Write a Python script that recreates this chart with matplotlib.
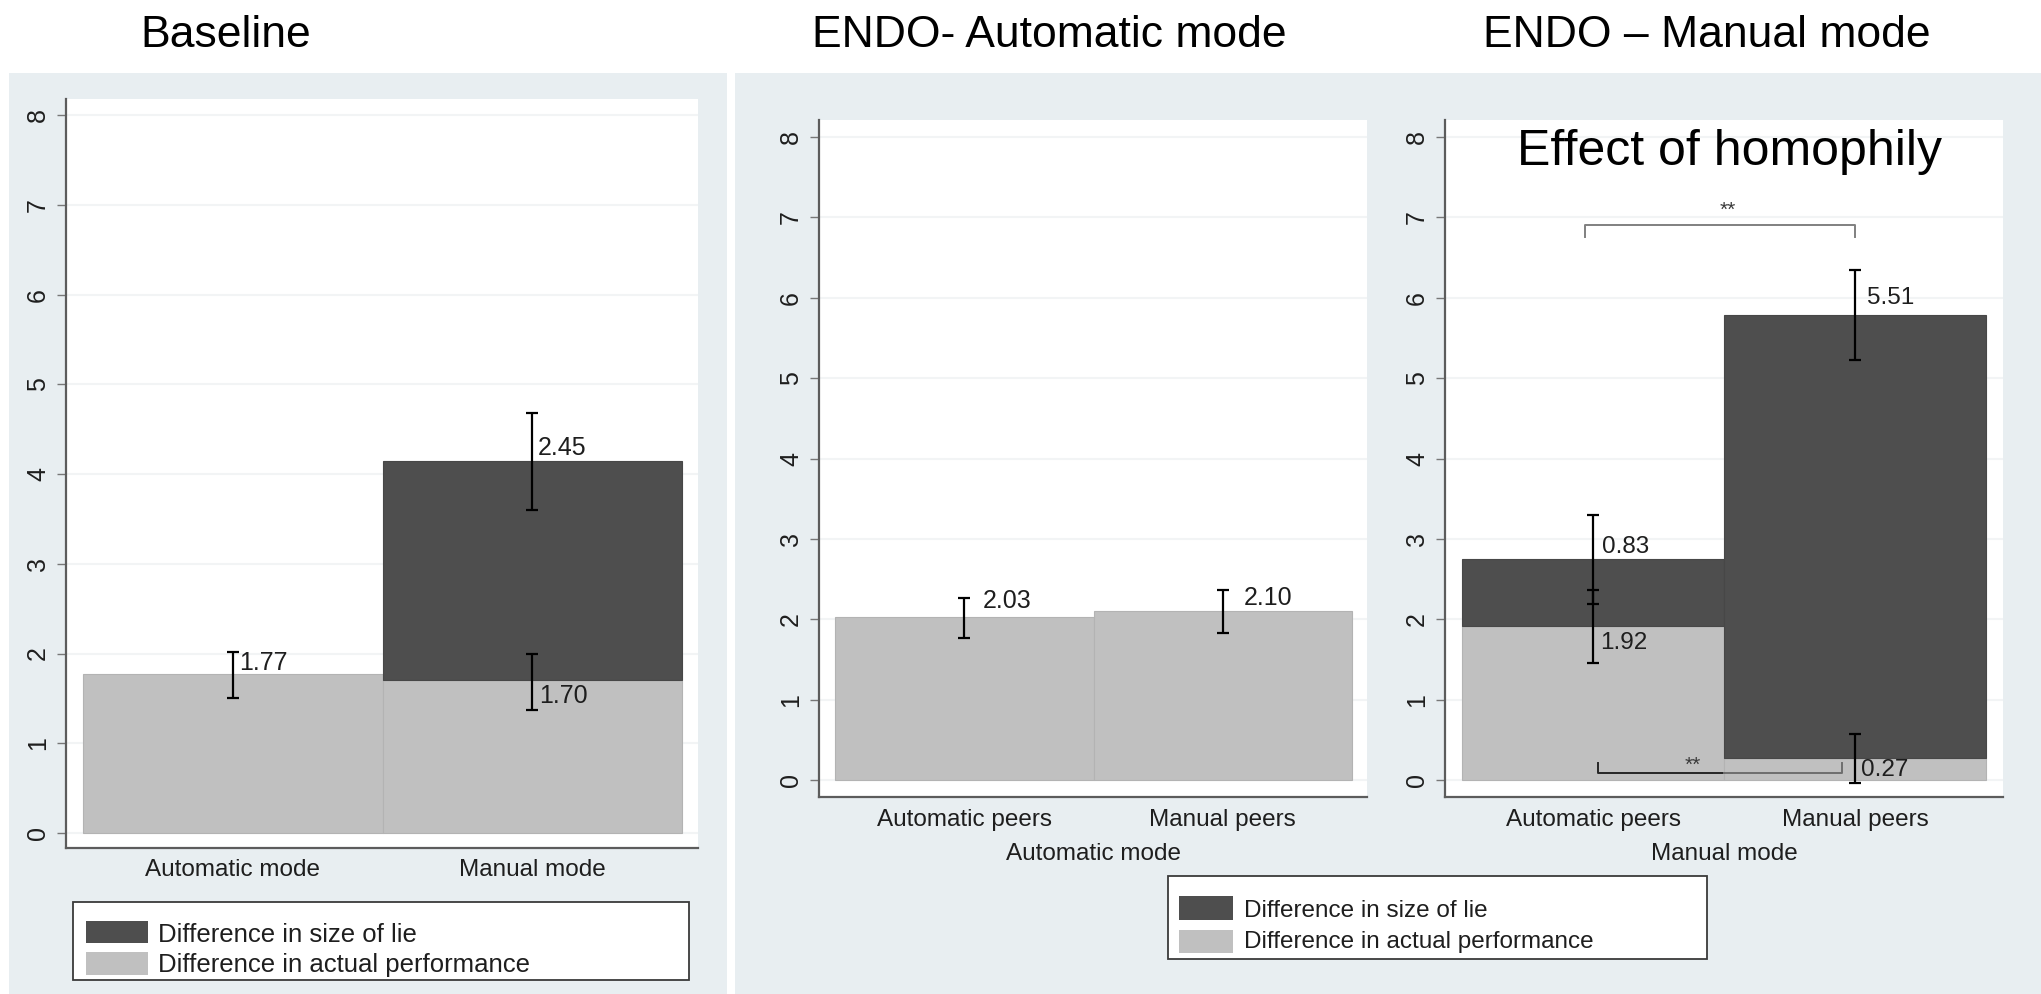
import matplotlib
matplotlib.use("Agg")
import matplotlib.pyplot as plt
from matplotlib.patches import Rectangle
import numpy as np

plt.rcParams['font.family'] = ['Liberation Sans', 'DejaVu Sans']

# ---------------------------------------------------------------- data
series_names = ['Difference in size of lie', 'Difference in actual performance']

panel_titles = ['Baseline', 'ENDO- Automatic mode', 'ENDO \u2013 Manual mode']

baseline_cats = ['Automatic mode', 'Manual mode']
baseline_perf = [1.77, 1.70]
baseline_lie = [0.00, 2.45]
baseline_perf_lo = [1.50, 1.37]
baseline_perf_hi = [2.02, 2.00]
baseline_total_lo = [np.nan, 3.60]
baseline_total_hi = [np.nan, 4.68]

auto_cats = ['Automatic peers', 'Manual peers']
auto_xlabel = 'Automatic mode'
auto_perf = [2.03, 2.10]
auto_lie = [0.00, 0.00]
auto_perf_lo = [1.77, 1.83]
auto_perf_hi = [2.26, 2.36]
auto_total_lo = [np.nan, np.nan]
auto_total_hi = [np.nan, np.nan]

manual_cats = ['Automatic peers', 'Manual peers']
manual_xlabel = 'Manual mode'
manual_perf = [1.92, 0.27]
manual_lie = [0.83, 5.51]
manual_perf_lo = [1.46, -0.04]
manual_perf_hi = [2.36, 0.57]
manual_total_lo = [2.19, 5.23]
manual_total_hi = [3.30, 6.34]

homophily_note = 'Effect of homophily'
sig_mark = '**'

# ---------------------------------------------------------------- style
W, H, DPI = 2041, 994, 100
BG = '#e8eef1'
DARK = '#4e4e4e'
LIGHT = '#c0c0c0'
TXT = '#1e1e1e'
SPINE = '#5c5c5c'


def px_box(x0, y0, x1, y1):
    """Pixel box (top-left origin) -> figure-fraction [left, bottom, width, height]."""
    return [x0 / W, 1 - y1 / H, (x1 - x0) / W, (y1 - y0) / H]


fig = plt.figure(figsize=(W / DPI, H / DPI), dpi=DPI, facecolor='white')

# graph-region backgrounds
for (x0, y0, x1, y1) in [(9, 73, 727, 994), (735, 73, 2041, 994)]:
    l, b, w, h = px_box(x0, y0, x1, y1)
    fig.patches.append(Rectangle((l, b), w, h, transform=fig.transFigure,
                                 facecolor=BG, edgecolor='none', zorder=-10))

# panel titles
for title, xc in zip(panel_titles, [226, 1049, 1707]):
    fig.text(xc / W, 1 - 47 / H, title, ha='center', va='baseline',
             fontsize=32, color='black')


def style_axes(ax, xlim, ylim, cats, xpad, tick_fs=17.5):
    ax.set_zorder(2)
    ax.set_facecolor('white')
    ax.set_xlim(*xlim)
    ax.set_ylim(*ylim)
    for s in ('top', 'right'):
        ax.spines[s].set_visible(False)
    for s in ('left', 'bottom'):
        ax.spines[s].set_color(SPINE)
        ax.spines[s].set_linewidth(1.6)
    ax.set_xticks(range(len(cats)))
    ax.set_xticklabels(cats)
    ax.tick_params(axis='x', length=0, pad=xpad, labelsize=tick_fs, labelcolor=TXT)
    ax.set_yticks(range(0, 9))
    ax.tick_params(axis='y', length=6.5, width=1.0, color='#777777', pad=5,
                   labelsize=18, labelcolor=TXT, labelrotation=90)
    for lbl in ax.get_yticklabels():
        lbl.set_va('center')
    ax.yaxis.grid(True, color='#f2f4f5', linewidth=1.5)
    ax.set_axisbelow(True)


def draw_bars(ax, perf, lie, perf_lo, perf_hi, tot_lo, tot_hi):
    x = np.arange(len(perf))
    perf = np.asarray(perf, float)
    lie = np.asarray(lie, float)
    ax.bar(x, perf, width=1.0, color=LIGHT, edgecolor='#b3b3b3',
           linewidth=0.8, zorder=2)
    has_lie = lie > 0
    ax.bar(x[has_lie], lie[has_lie], bottom=perf[has_lie], width=1.0,
           color=DARK, edgecolor='#474747', linewidth=0.8, zorder=2)
    total = perf + lie
    for centre, lo, hi in [(perf, perf_lo, perf_hi), (total, tot_lo, tot_hi)]:
        lo = np.asarray(lo, float)
        hi = np.asarray(hi, float)
        ok = ~np.isnan(lo)
        if ok.any():
            ax.errorbar(x[ok], centre[ok],
                        yerr=[centre[ok] - lo[ok], hi[ok] - centre[ok]],
                        fmt='none', ecolor='black', elinewidth=1.6,
                        capsize=4.5, capthick=1.6, zorder=4)
    return x, perf, lie, total


def value_label(ax, x, y, value, dx_pts, fs=18):
    ax.annotate(f'{value:.2f}', xy=(x, y), xytext=(dx_pts, 0),
                textcoords='offset points', ha='left', va='center',
                fontsize=fs, color=TXT, zorder=5)


def draw_legend(box, sw_x, rows, text_x, fs):
    l, b, w, h = px_box(*box)
    fig.patches.append(Rectangle((l, b), w, h, transform=fig.transFigure,
                                 facecolor='white', edgecolor='#3a3a3a',
                                 linewidth=1.3, zorder=1))
    for name, color, (y0, y1, base) in zip(series_names, [DARK, LIGHT], rows):
        l, b, w, h = px_box(sw_x[0], y0, sw_x[1], y1)
        fig.patches.append(Rectangle((l, b), w, h, transform=fig.transFigure,
                                     facecolor=color, edgecolor='none', zorder=2))
        fig.text(text_x / W, 1 - base / H, name, ha='left', va='baseline',
                 fontsize=fs, color=TXT, zorder=3)


# ---------------------------------------------------------------- Baseline
ax1 = fig.add_axes(px_box(66, 99, 698, 848))
style_axes(ax1, (-0.557, 1.553), (-0.167, 8.18), baseline_cats, xpad=8)
x, perf, lie, total = draw_bars(ax1, baseline_perf, baseline_lie,
                                baseline_perf_lo, baseline_perf_hi,
                                baseline_total_lo, baseline_total_hi)
value_label(ax1, x[0], perf[0] + 0.12, perf[0], 4.5)
value_label(ax1, x[1], perf[1] - 0.17, perf[1], 5.0)
value_label(ax1, x[1], total[1] + 0.14, lie[1], 4.0)
draw_legend((73, 902, 689, 980), (86, 148),
            [(921, 943, 942), (952, 975, 972)], 158, 18.5)

# ---------------------------------------------------------------- ENDO automatic
ax2 = fig.add_axes(px_box(819, 120, 1367, 797))
style_axes(ax2, (-0.562, 1.558), (-0.21, 8.21), auto_cats, xpad=8.5)
ax2.set_xlabel(auto_xlabel, fontsize=17.5, color=TXT, labelpad=8.5)
x, perf, lie, total = draw_bars(ax2, auto_perf, auto_lie,
                                auto_perf_lo, auto_perf_hi,
                                auto_total_lo, auto_total_hi)
value_label(ax2, x[0], perf[0] + 0.20, perf[0], 13)
value_label(ax2, x[1], perf[1] + 0.16, perf[1], 15)
draw_legend((1168, 876, 1707, 959), (1179, 1233),
            [(896, 920, 917), (930, 953, 948)], 1244, 17.5)

# ---------------------------------------------------------------- ENDO manual
ax3 = fig.add_axes(px_box(1445, 120, 2003, 797))
style_axes(ax3, (-0.565, 1.565), (-0.21, 8.21), manual_cats, xpad=8.5)
ax3.set_xlabel(manual_xlabel, fontsize=17.5, color=TXT, labelpad=8.5)
x, perf, lie, total = draw_bars(ax3, manual_perf, manual_lie,
                                manual_perf_lo, manual_perf_hi,
                                manual_total_lo, manual_total_hi)
value_label(ax3, x[0], total[0] + 0.15, lie[0], 6.5, fs=17.5)
value_label(ax3, x[0], perf[0] - 0.22, perf[0], 5.0, fs=17.5)
value_label(ax3, x[1], total[1] + 0.22, lie[1], 9.0, fs=17.5)
value_label(ax3, x[1], perf[1] - 0.15, perf[1], 4.5, fs=17.5)

ax3.text(0.52, 7.65, homophily_note, ha='center', va='baseline',
         fontsize=36, color='black', zorder=6)

# comparison of the size of lie (top bracket)
ax3.plot([-0.03, -0.03, 1.0, 1.0], [6.75, 6.90, 6.90, 6.75],
         color='#808080', linewidth=1.4, zorder=5)
ax3.text(0.515, 7.02, sig_mark, ha='center', va='baseline', fontsize=15,
         color='#3a3a3a', zorder=6)

# comparison of actual performance (bottom bracket)
ax3.plot([0.02, 0.02, 0.5], [0.21, 0.087, 0.087],
         color='#262626', linewidth=1.4, zorder=5)
ax3.plot([0.5, 0.95, 0.95], [0.087, 0.087, 0.21],
         color='#6e6e6e', linewidth=1.4, zorder=5)
ax3.text(0.38, 0.11, sig_mark, ha='center', va='baseline', fontsize=15,
         color='#3a3a3a', zorder=6)

fig.savefig('out.png', dpi=DPI, facecolor='white')
